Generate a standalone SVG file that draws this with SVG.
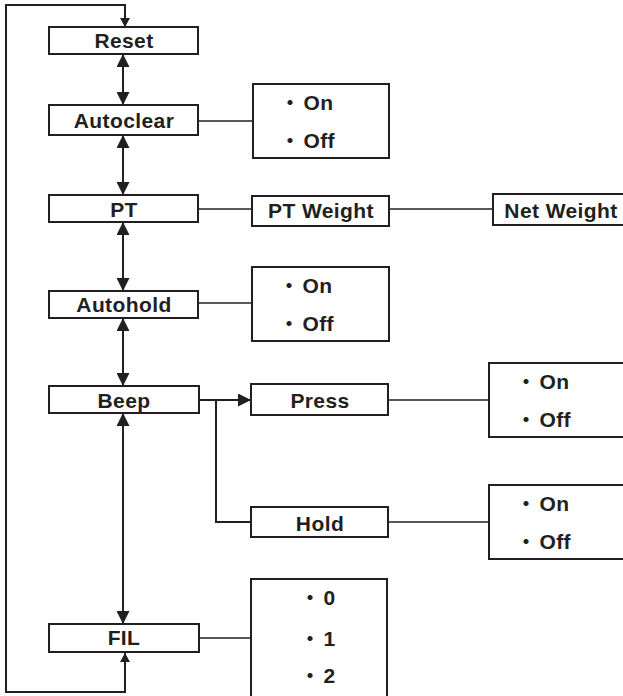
<svg xmlns="http://www.w3.org/2000/svg" width="623" height="696" viewBox="0 0 623 696">
<style>
.box{fill:#fff;stroke:#231f20;stroke-width:2}
.lbl{font-family:"Liberation Sans",Arial,sans-serif;font-weight:bold;font-size:21px;letter-spacing:0.4px;fill:#231f20;text-anchor:middle}
.opt{font-family:"Liberation Sans",Arial,sans-serif;font-weight:bold;font-size:21px;letter-spacing:0.4px;fill:#231f20}
.dot{font-family:"Noto Sans CJK JP",sans-serif;font-weight:bold;font-size:20px}
.ln{fill:none;stroke:#231f20;stroke-width:2}
.thin{fill:none;stroke:#231f20;stroke-width:1.6}
</style>
<defs>
<marker id="ah" markerUnits="userSpaceOnUse" markerWidth="14" markerHeight="13" refX="13" refY="6.5" orient="auto-start-reverse">
<path d="M0,0 L13,6.5 L0,13 z" fill="#231f20"/>
</marker>
<marker id="sh" markerUnits="userSpaceOnUse" markerWidth="10" markerHeight="10" refX="9" refY="5" orient="auto-start-reverse">
<path d="M0,0 L9,5 L0,10 z" fill="#231f20"/>
</marker>
</defs>

<g id="connectors">
<path class="ln" d="M125,653 V692 H6 V5 H125 V27" marker-start="url(#sh)" marker-end="url(#sh)"/>
<path class="ln" d="M123,54 V105" marker-start="url(#ah)" marker-end="url(#ah)"/>
<path class="ln" d="M123,135 V195" marker-start="url(#ah)" marker-end="url(#ah)"/>
<path class="ln" d="M123,222 V291" marker-start="url(#ah)" marker-end="url(#ah)"/>
<path class="ln" d="M123,318 V386" marker-start="url(#ah)" marker-end="url(#ah)"/>
<path class="ln" d="M123,413 V624" marker-start="url(#ah)" marker-end="url(#ah)"/>
<path class="thin" d="M198,121 H253"/>
<path class="thin" d="M198,209 H252"/>
<path class="thin" d="M389,209 H493"/>
<path class="thin" d="M198,303 H252"/>
<path class="ln" d="M199,400 H251" marker-end="url(#ah)"/>
<path class="ln" d="M216,400 V522 H251"/>
<path class="thin" d="M388,400 H489"/>
<path class="thin" d="M388,522 H489"/>
<path class="thin" d="M199,638 H251"/>
</g>

<g id="reset"><rect class="box" x="49" y="27" width="149" height="27"/><text class="lbl" x="124" y="48">Reset</text></g>
<g id="autoclear"><rect class="box" x="49" y="105" width="149" height="30"/><text class="lbl" x="124" y="128">Autoclear</text></g>
<g id="autoclear-options"><rect class="box" x="253" y="84" width="136" height="74"/>
<text class="opt" x="280" y="110"><tspan class="dot">・</tspan><tspan dx="3">On</tspan></text>
<text class="opt" x="280" y="148"><tspan class="dot">・</tspan><tspan dx="3">Off</tspan></text></g>
<g id="pt"><rect class="box" x="49" y="195" width="149" height="27"/><text class="lbl" x="124" y="217">PT</text></g>
<g id="pt-weight"><rect class="box" x="252" y="196" width="137" height="30"/><text class="lbl" x="321" y="218">PT Weight</text></g>
<g id="net-weight"><rect class="box" x="493" y="194" width="136" height="31"/><text class="lbl" x="561" y="218">Net Weight</text></g>
<g id="autohold"><rect class="box" x="49" y="291" width="149" height="27"/><text class="lbl" x="124" y="312">Autohold</text></g>
<g id="autohold-options"><rect class="box" x="252" y="267" width="137" height="74"/>
<text class="opt" x="279" y="293"><tspan class="dot">・</tspan><tspan dx="3">On</tspan></text>
<text class="opt" x="279" y="331"><tspan class="dot">・</tspan><tspan dx="3">Off</tspan></text></g>
<g id="beep"><rect class="box" x="49" y="386" width="150" height="27"/><text class="lbl" x="124" y="408">Beep</text></g>
<g id="press"><rect class="box" x="251" y="384" width="137" height="31"/><text class="lbl" x="320" y="408">Press</text></g>
<g id="press-options"><rect class="box" x="489" y="363" width="136" height="74"/>
<text class="opt" x="516" y="389"><tspan class="dot">・</tspan><tspan dx="3">On</tspan></text>
<text class="opt" x="516" y="427"><tspan class="dot">・</tspan><tspan dx="3">Off</tspan></text></g>
<g id="hold"><rect class="box" x="251" y="507" width="137" height="30"/><text class="lbl" x="320" y="531">Hold</text></g>
<g id="hold-options"><rect class="box" x="489" y="485" width="136" height="74"/>
<text class="opt" x="516" y="511"><tspan class="dot">・</tspan><tspan dx="3">On</tspan></text>
<text class="opt" x="516" y="549"><tspan class="dot">・</tspan><tspan dx="3">Off</tspan></text></g>
<g id="fil"><rect class="box" x="49" y="624" width="150" height="28"/><text class="lbl" x="124" y="645">FIL</text></g>
<g id="fil-options"><rect class="box" x="251" y="579" width="136" height="130"/>
<text class="opt" x="300" y="605"><tspan class="dot">・</tspan><tspan dx="3">0</tspan></text>
<text class="opt" x="300" y="646"><tspan class="dot">・</tspan><tspan dx="3">1</tspan></text>
<text class="opt" x="300" y="683"><tspan class="dot">・</tspan><tspan dx="3">2</tspan></text></g>
</svg>
